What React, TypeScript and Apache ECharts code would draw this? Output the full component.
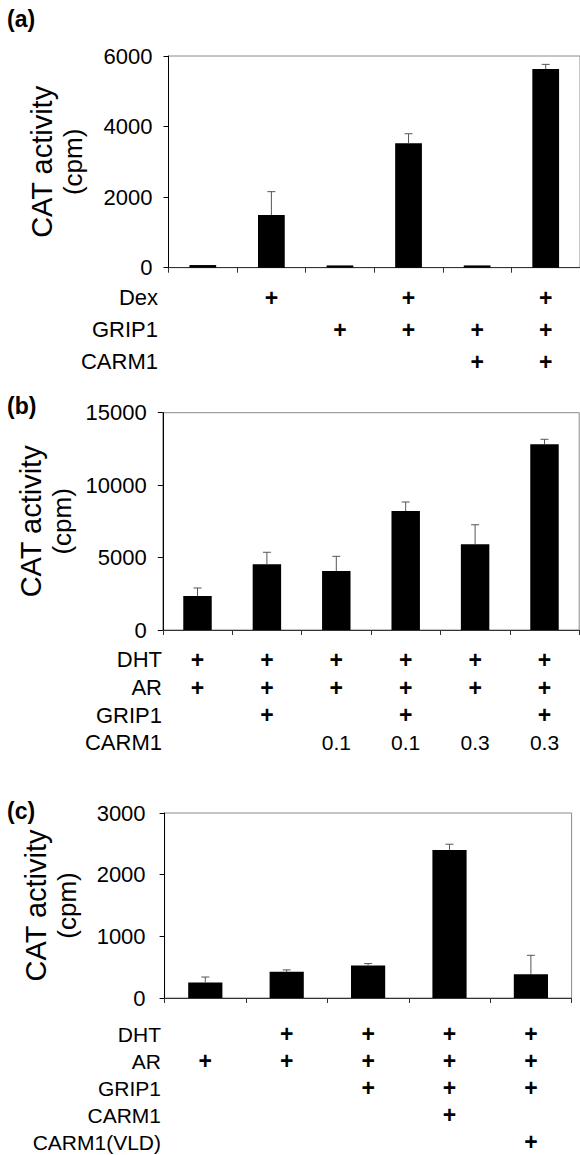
import React, { useEffect, useRef } from "react";
import * as echarts from "echarts";

// ---------- data ----------
// Panel (a)
const catsA = ["1", "2", "3", "4", "5", "6"];
const meanA = [75, 1495, 65, 3525, 65, 5630];
const errA = [0, 660, 0, 272, 0, 133];
const rowNamesA = ["Dex", "GRIP1", "CARM1"];
const rowDexA = ["", "+", "", "+", "", "+"];
const rowGripA = ["", "", "+", "+", "+", "+"];
const rowCarmA = ["", "", "", "", "+", "+"];
const ticksA = { max: 6000, interval: 2000 };

// Panel (b)
const catsB = ["1", "2", "3", "4", "5", "6"];
const meanB = [2350, 4535, 4075, 8215, 5915, 12820];
const errB = [550, 830, 1010, 620, 1350, 345];
const rowNamesB = ["DHT", "AR", "GRIP1", "CARM1"];
const rowDhtB = ["+", "+", "+", "+", "+", "+"];
const rowArB = ["+", "+", "+", "+", "+", "+"];
const rowGripB = ["", "+", "", "+", "", "+"];
const rowCarmB = ["", "", "0.1", "0.1", "0.3", "0.3"];
const ticksB = { max: 15000, interval: 5000 };

// Panel (c)
const catsC = ["1", "2", "3", "4", "5"];
const meanC = [252, 424, 526, 2402, 385];
const errC = [88, 32, 32, 92, 307];
const rowNamesC = ["DHT", "AR", "GRIP1", "CARM1", "CARM1(VLD)"];
const rowDhtC = ["", "+", "+", "+", "+"];
const rowArC = ["+", "+", "+", "+", "+"];
const rowGripC = ["", "", "+", "+", "+"];
const rowCarmC = ["", "", "", "+", ""];
const rowVldC = ["", "", "", "", "+"];
const ticksC = { max: 3000, interval: 1000 };

const yTitle = "{t|CAT activity}\n{u|(cpm)}";

// ---------- layout ----------
const FONT = "'Liberation Sans', Arial, Helvetica, sans-serif";

const panels = [
  {
    letter: "(a)", letterY: 20,
    cats: catsA, mean: meanA, err: errA, rows: [rowDexA, rowGripA, rowCarmA], rowNames: rowNamesA, ticks: ticksA,
    left: 168.5, top: 56, width: 413, height: 211.7, barWidth: "39%",
    rowLH: 32, rowMargin: 14, rowLabelX: 158, labelMargin: 16, nameGap: 80, rowFont: 22,
  },
  {
    letter: "(b)", letterY: 407,
    cats: catsB, mean: meanB, err: errB, rows: [rowDhtB, rowArB, rowGripB, rowCarmB], rowNames: rowNamesB, ticks: ticksB,
    left: 162.8, top: 412.7, width: 416.4, height: 217.3, barWidth: "41%",
    rowLH: 27.7, rowMargin: 16, rowLabelX: 162, labelMargin: 16, nameGap: 82, rowFont: 22,
  },
  {
    letter: "(c)", letterY: 812,
    cats: catsC, mean: meanC, err: errC, rows: [rowDhtC, rowArC, rowGripC, rowCarmC, rowVldC], rowNames: rowNamesC, ticks: ticksC,
    left: 164.6, top: 813, width: 407, height: 185.5, barWidth: "42%",
    rowLH: 27, rowMargin: 22, rowLabelX: 161, labelMargin: 19, nameGap: 82, rowFont: 21,
  },
];

function buildOption() {
  const grid: any[] = [];
  const xAxis: any[] = [];
  const yAxis: any[] = [];
  const series: any[] = [];
  const graphic: any[] = [];

  panels.forEach((p, i) => {
    grid.push({
      left: p.left, top: p.top, width: p.width, height: p.height,
      show: true, borderColor: "#8a8a8a", borderWidth: 1, backgroundColor: "transparent",
    });
    const labels = p.cats.map((_, ci) =>
      p.rows
        .map((r) => (r[ci] === "" ? "{p| }" : r[ci] === "+" ? "{p|+}" : `{v|${r[ci]}}`))
        .join("\n")
    );
    xAxis.push({
      type: "category", gridIndex: i, data: p.cats,
      axisLine: { lineStyle: { color: "#333", width: 1 } },
      axisTick: { show: true, length: 5, lineStyle: { color: "#333" } },
      axisLabel: {
        interval: 0, margin: p.rowMargin, color: "#000", fontFamily: FONT, fontSize: 22,
        lineHeight: p.rowLH, verticalAlign: "top",
        formatter: (_v: string, idx: number) => labels[idx],
        rich: {
          p: { fontFamily: FONT, fontSize: 23, fontWeight: "bold", lineHeight: p.rowLH, color: "#000" },
          v: { fontFamily: FONT, fontSize: 21, lineHeight: p.rowLH, color: "#000" },
        },
      },
      splitLine: { show: false },
    });
    yAxis.push({
      type: "value", gridIndex: i, min: 0, max: p.ticks.max, interval: p.ticks.interval,
      axisLine: { show: true, lineStyle: { color: "#000", width: 1 } },
      axisTick: { show: true, length: 5, lineStyle: { color: "#000" } },
      axisLabel: {
        color: "#000", fontFamily: FONT, fontSize: 22, margin: p.labelMargin,
        formatter: (v: number) => String(v),
      },
      splitLine: { show: false },
      name: yTitle, nameLocation: "middle", nameRotate: 90, nameGap: p.nameGap,
      nameTextStyle: {
        color: "#000",
        rich: {
          t: { fontSize: 29, lineHeight: 31, fontFamily: FONT, color: "#000" },
          u: { fontSize: 26, lineHeight: 31, fontFamily: FONT, color: "#000" },
        },
      },
    });
    series.push({
      type: "bar", xAxisIndex: i, yAxisIndex: i, data: p.mean, barWidth: p.barWidth,
      itemStyle: { color: "#000" }, silent: true,
    });
    series.push({
      type: "custom", xAxisIndex: i, yAxisIndex: i, z: 5, silent: true,
      data: p.mean.map((m, k) => [k, m, m + p.err[k]]),
      renderItem: (params: any, api: any) => {
        const x = api.value(0);
        const lo = api.coord([x, api.value(1)]);
        const hi = api.coord([x, api.value(2)]);
        if (Math.abs(lo[1] - hi[1]) < 0.5) return { type: "group", children: [] };
        const style = { stroke: "#555", lineWidth: 1 };
        return {
          type: "group",
          children: [
            { type: "line", shape: { x1: lo[0], y1: lo[1], x2: hi[0], y2: hi[1] }, style },
            { type: "line", shape: { x1: hi[0] - 4, y1: hi[1], x2: hi[0] + 4, y2: hi[1] }, style },
          ],
        };
      },
    });
    graphic.push({
      type: "text", left: 7, top: p.letterY - 13,
      style: { text: p.letter, font: `bold 23px ${FONT}`, fill: "#000" },
    });
    graphic.push({
      type: "text", x: p.rowLabelX, y: p.top + p.height + p.rowMargin,
      style: {
        text: p.rowNames.join("\n"), fontFamily: FONT, fontSize: p.rowFont, lineHeight: p.rowLH,
        fill: "#000", align: "right", verticalAlign: "top",
      },
    });
  });

  return { animation: false, backgroundColor: "#fff", grid, xAxis, yAxis, series, graphic };
}

export default function App() {
  const ref = useRef<HTMLDivElement>(null);
  useEffect(() => {
    if (!ref.current) return;
    const chart = echarts.init(ref.current, undefined, { renderer: "svg" });
    chart.setOption(buildOption() as any);
    return () => chart.dispose();
  }, []);
  return (
    <div
      ref={ref}
      style={{ position: "absolute", left: 0, top: 0, width: 580, height: 1155, background: "#fff" }}
    />
  );
}
